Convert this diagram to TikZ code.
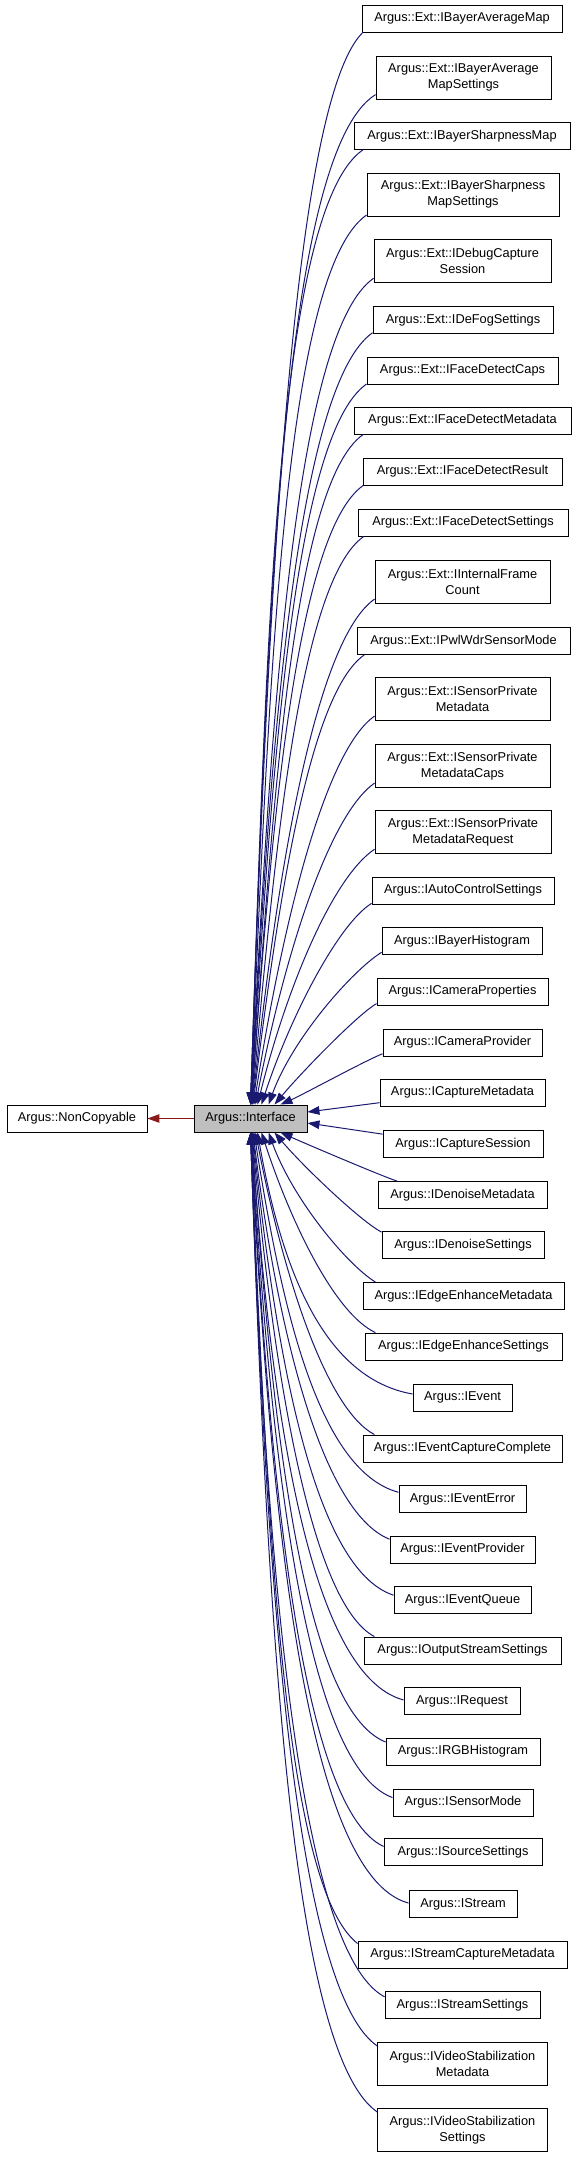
\documentclass[tikz,border=0pt]{standalone}
\usepackage{fontspec}
\setmainfont{Liberation Sans}
\usetikzlibrary{arrows.meta}
\definecolor{edgeblue}{HTML}{191970}
\definecolor{edgered}{HTML}{8B1A1A}
\definecolor{ifgray}{HTML}{BFBFBF}
\tikzset{
 cls/.style={draw=black, line width=0.9pt, fill=white, align=center, inner xsep=2pt, inner ysep=0pt, font=\fontsize{12.8}{16}\selectfont, minimum height=27pt},
 two/.style={minimum height=43pt},
 edge/.style={draw=edgeblue, line width=1pt, -{Triangle[length=12pt,width=8.5pt]}},
 redge/.style={draw=edgered, line width=1pt, -{Triangle[length=12pt,width=8.5pt]}},
}
\begin{document}
\begin{tikzpicture}[x=1pt,y=1pt]
\useasboundingbox (0,0) rectangle (576,-2157);
\node[cls, minimum width=140pt] (nc) at (77,-1118.5) {Argus::NonCopyable};
\node[cls, minimum width=113pt, fill=ifgray] (iface) at (250.5,-1118.5) {Argus::Interface};
\node[cls, minimum width=200pt] (c1) at (462,-18.5) {Argus::Ext::IBayerAverageMap};
\node[cls, two, minimum width=175pt] (c2) at (463.5,-77.5) {Argus::Ext::IBayerAverage\\MapSettings};
\node[cls, minimum width=216pt] (c3) at (462,-136) {Argus::Ext::IBayerSharpnessMap};
\node[cls, two, minimum width=192pt] (c4) at (463,-194.5) {Argus::Ext::IBayerSharpness\\MapSettings};
\node[cls, two, minimum width=177pt] (c5) at (462.5,-261) {Argus::Ext::IDebugCapture\\Session};
\node[cls, minimum width=180pt] (c6) at (463,-320) {Argus::Ext::IDeFogSettings};
\node[cls, minimum width=191pt] (c7) at (462.5,-370.5) {Argus::Ext::IFaceDetectCaps};
\node[cls, minimum width=217pt] (c8) at (462.5,-420.5) {Argus::Ext::IFaceDetectMetadata};
\node[cls, minimum width=199pt] (c9) at (462.5,-471.5) {Argus::Ext::IFaceDetectResult};
\node[cls, minimum width=210pt] (c10) at (463,-522.5) {Argus::Ext::IFaceDetectSettings};
\node[cls, two, minimum width=175pt] (c11) at (462.5,-582) {Argus::Ext::IInternalFrame\\Count};
\node[cls, minimum width=213pt] (c12) at (463.5,-641) {Argus::Ext::IPwlWdrSensorMode};
\node[cls, two, minimum width=175pt] (c13) at (462.5,-699) {Argus::Ext::ISensorPrivate\\Metadata};
\node[cls, two, minimum width=175pt] (c14) at (462.5,-766) {Argus::Ext::ISensorPrivate\\MetadataCaps};
\node[cls, two, minimum width=176pt] (c15) at (463,-832) {Argus::Ext::ISensorPrivate\\MetadataRequest};
\node[cls, minimum width=182pt] (c16) at (463,-890.5) {Argus::IAutoControlSettings};
\node[cls, minimum width=160pt] (c17) at (462,-941) {Argus::IBayerHistogram};
\node[cls, minimum width=171pt] (c18) at (462.5,-991.5) {Argus::ICameraProperties};
\node[cls, minimum width=159pt] (c19) at (462.5,-1042.5) {Argus::ICameraProvider};
\node[cls, minimum width=165pt] (c20) at (462.5,-1092.5) {Argus::ICaptureMetadata};
\node[cls, minimum width=160pt] (c21) at (463,-1144) {Argus::ICaptureSession};
\node[cls, minimum width=169pt] (c22) at (462.5,-1195) {Argus::IDenoiseMetadata};
\node[cls, minimum width=162pt] (c23) at (463,-1245) {Argus::IDenoiseSettings};
\node[cls, minimum width=201pt] (c24) at (463.5,-1296) {Argus::IEdgeEnhanceMetadata};
\node[cls, minimum width=197pt] (c25) at (463.5,-1346.5) {Argus::IEdgeEnhanceSettings};
\node[cls, minimum width=99pt] (c26) at (462.5,-1397.5) {Argus::IEvent};
\node[cls, minimum width=199pt] (c27) at (462.5,-1448.5) {Argus::IEventCaptureComplete};
\node[cls, minimum width=127pt] (c28) at (462.5,-1499) {Argus::IEventError};
\node[cls, minimum width=145pt] (c29) at (462.5,-1549.5) {Argus::IEventProvider};
\node[cls, minimum width=137pt] (c30) at (462.5,-1600) {Argus::IEventQueue};
\node[cls, minimum width=197pt] (c31) at (462.5,-1650.5) {Argus::IOutputStreamSettings};
\node[cls, minimum width=116pt] (c32) at (462,-1701) {Argus::IRequest};
\node[cls, minimum width=154pt] (c33) at (463,-1751.5) {Argus::IRGBHistogram};
\node[cls, minimum width=140pt] (c34) at (463,-1802.5) {Argus::ISensorMode};
\node[cls, minimum width=158pt] (c35) at (463,-1852) {Argus::ISourceSettings};
\node[cls, minimum width=108pt] (c36) at (463,-1904) {Argus::IStream};
\node[cls, minimum width=209pt] (c37) at (462.5,-1954.5) {Argus::IStreamCaptureMetadata};
\node[cls, minimum width=155pt] (c38) at (462.5,-2005) {Argus::IStreamSettings};
\node[cls, two, minimum width=170pt] (c39) at (462.5,-2064) {Argus::IVideoStabilization\\Metadata};
\node[cls, two, minimum width=170pt] (c40) at (462.5,-2130) {Argus::IVideoStabilization\\Settings};
% inheritance edges, upper group: name/anchor/out angle/out dist/in angle/in dist/x offset
\foreach \n/\a/\o/\od/\i/\id/\xo in {
 c1/188/225/101/88/500/0, c2/191/212/111/88/475/0, c3/188/215/106/88/450/0,
 c4/192/215/101/87.5/420/0, c5/191/215/96/87/390/0, c6/188/215/92/87/363/0.5,
 c7/188/215/88/86.5/340/0.5, c8/188/215/84/86/315/1, c9/188/215/80/86/290/1,
 c10/188/215/76/85/268/1.5, c11/191/215/71/84/240/2, c12/188/215/66/83/212/2.5,
 c13/191/215/61/81/184/3.5, c14/191/215/56/79/152/5, c15/191/214/51/76/120/7,
 c16/188/212/40/72/90/11, c17/188/212/35/70/70/18, c18/188/210/22/50/42/24,
 c19/188/202/20/24/25/30}
 {\draw[edge] (\n.\a) .. controls +(\o:\od) and +(\i:\id) .. ([xshift=\xo pt]iface.north);}
% lower group
\foreach \n/\a/\o/\od/\i/\id/\xo in {
 c22/168/161/20/-24/25/30, c23/171/152/25/-50/42/24, c24/171.5/148/35/-70/70/18,
 c25/171.5/155/46/-72/90/11, c26/176/170/90/-80/140/7, c27/171.5/152/55/-79/145/5,
 c28/174.6/165/85/-81/170/3.5, c29/172.5/158/75/-83/192/2.5, c30/176/162/85/-84/218/2,
 c31/171.5/152/72/-85/240/1.5, c32/179/165/100/-86/266/1, c33/173.7/158/90/-86/288/1,
 c34/176.3/160/95/-86.5/313/0.5, c35/176.4/155/92/-87/336/0.5, c36/179/165/110/-87/361/0,
 c37/174/142/95/-87.5/382/0, c38/174.8/152/100/-88/406/0, c39/168.7/145/103/-88/430/0,
 c40/168.7/145/108/-88/461/0}
 {\draw[edge] (\n.\a) .. controls +(\o:\od) and +(\i:\id) .. ([xshift=\xo pt]iface.south);}
% right side
\draw[edge] (c20.187) -- ([yshift=6.5pt]iface.east);
\draw[edge] (c21.173) -- ([yshift=-4.5pt]iface.east);
% private base
\draw[redge] (iface) -- (nc);
\end{tikzpicture}
\end{document}
